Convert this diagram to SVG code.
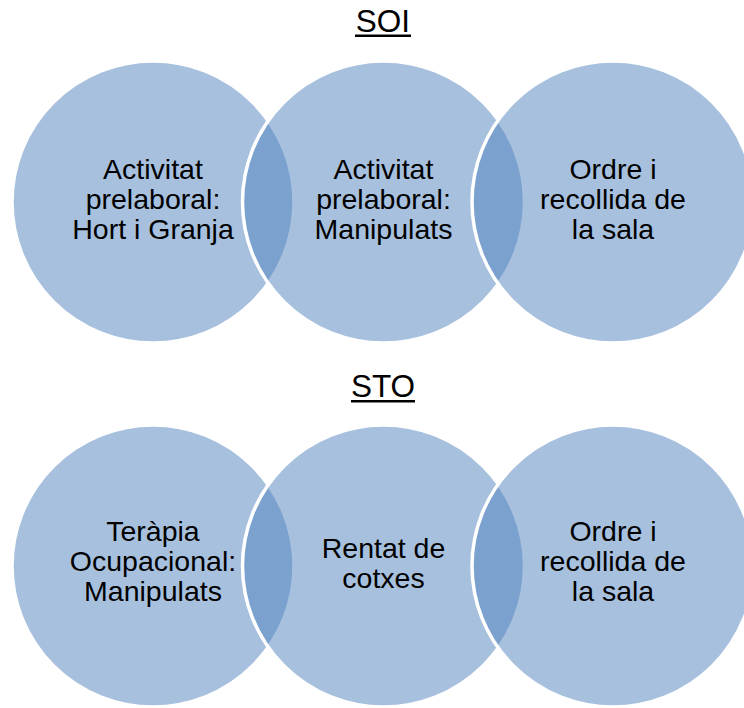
<svg xmlns="http://www.w3.org/2000/svg" width="744" height="708" viewBox="0 0 744 708">
<style>
.c{fill:#4F81BD;fill-opacity:0.5;stroke:#FFFFFF;stroke-width:3.5}
.t{font-family:"Liberation Sans",Arial,sans-serif;font-size:28.5px;fill:#000;text-anchor:middle}
.h{font-family:"Liberation Sans",Arial,sans-serif;font-size:31.5px;fill:#000;text-anchor:middle}
</style>
<rect width="744" height="708" fill="#FFFFFF"/>
<g id="title-soi">
<text class="h" x="383" y="32">SOI</text>
<rect x="355" y="34.5" width="56" height="2.5" fill="#000"/>
</g>
<g id="soi-1">
<circle class="c" cx="153" cy="202" r="141"/>
<text class="t" x="153" y="179">Activitat</text>
<text class="t" x="153" y="209">prelaboral:</text>
<text class="t" x="153" y="239">Hort i Granja</text>
</g>
<g id="soi-2">
<circle class="c" cx="383.5" cy="202" r="141"/>
<text class="t" x="383.5" y="179">Activitat</text>
<text class="t" x="383.5" y="209">prelaboral:</text>
<text class="t" x="383.5" y="239">Manipulats</text>
</g>
<g id="soi-3">
<circle class="c" cx="613" cy="202" r="141"/>
<text class="t" x="613" y="179">Ordre i</text>
<text class="t" x="613" y="209">recollida de</text>
<text class="t" x="613" y="239">la sala</text>
</g>
<g id="title-sto">
<text class="h" x="383" y="397">STO</text>
<rect x="351" y="400" width="64" height="2.5" fill="#000"/>
</g>
<g id="sto-1">
<circle class="c" cx="153" cy="566" r="141"/>
<text class="t" x="153" y="541">Teràpia</text>
<text class="t" x="153" y="571">Ocupacional:</text>
<text class="t" x="153" y="601">Manipulats</text>
</g>
<g id="sto-2">
<circle class="c" cx="383.5" cy="566" r="141"/>
<text class="t" x="383.5" y="558">Rentat de</text>
<text class="t" x="383.5" y="588">cotxes</text>
</g>
<g id="sto-3">
<circle class="c" cx="613" cy="566" r="141"/>
<text class="t" x="613" y="541">Ordre i</text>
<text class="t" x="613" y="571">recollida de</text>
<text class="t" x="613" y="601">la sala</text>
</g>
<g id="connectors"></g>
</svg>
